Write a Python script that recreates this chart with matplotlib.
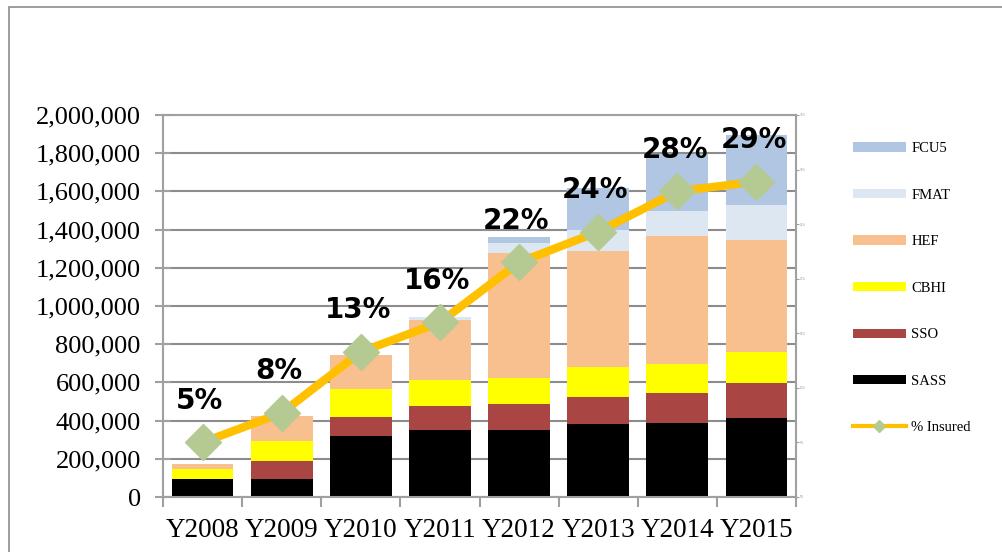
import matplotlib.pyplot as plt
import numpy as np
from matplotlib.ticker import FuncFormatter, MultipleLocator
from matplotlib.lines import Line2D
from matplotlib.patches import Patch, Rectangle

years = ['Y2008', 'Y2009', 'Y2010', 'Y2011', 'Y2012', 'Y2013', 'Y2014', 'Y2015']

# stacked values, bottom to top
sass = [93000, 93000, 317000, 353000, 352000, 380000, 387000, 411000]
sso = [0, 94000, 104000, 121000, 135000, 141000, 157000, 186000]
cbhi = [54000, 107000, 144000, 140000, 134000, 161000, 150000, 163000]
hef = [26000, 131000, 177000, 315000, 655000, 606000, 672000, 585000]
fmat = [0, 0, 0, 16000, 52000, 110000, 134000, 182000]
fcu5 = [0, 0, 0, 0, 33000, 219000, 295000, 368000]

insured = [5.0, 7.7, 13.3, 16.0, 21.5, 24.3, 28.0, 28.9]
insured_labels = ['5%', '8%', '13%', '16%', '22%', '24%', '28%', '29%']

series = [('SASS', sass, '#000000'),
          ('SSO', sso, '#A94644'),
          ('CBHI', cbhi, '#FFFF00'),
          ('HEF', hef, '#F9C08F'),
          ('FMAT', fmat, '#DDE7F2'),
          ('FCU5', fcu5, '#B0C6E2')]

fig = plt.figure(figsize=(10.02, 5.52), dpi=100)
fig.patches.append(Rectangle((9 / 1002, -0.1), 1.2, 1.1 - 7 / 552, transform=fig.transFigure,
                             fill=False, edgecolor='#8C8C8C', linewidth=1.2))

ax = fig.add_axes([163 / 1002, 1 - 497 / 552, (796 - 163) / 1002, (497 - 115) / 552])
x = np.arange(len(years))
bottom = np.zeros(len(years))
for name, vals, col in series:
    ax.bar(x, vals, 0.78, bottom=bottom, color=col, label=name, zorder=2)
    bottom += np.array(vals)

ax.set_xlim(-0.5, len(years) - 0.5)
ax.set_ylim(0, 2000000)
ax.yaxis.set_major_locator(MultipleLocator(200000))
ax.yaxis.set_major_formatter(FuncFormatter(lambda v, p: f'{int(v):,}'))
ax.grid(axis='y', color='#8C8C8C', linewidth=1.5, zorder=0)
ax.set_axisbelow(True)
for s in ax.spines.values():
    s.set_color('#A0A0A0')
    s.set_linewidth(1.5)
ax.set_xticks(x)
ax.set_xticklabels(years, fontfamily='Liberation Serif', fontsize=19.5)
ax.set_xticks(np.arange(-0.5, len(years)), minor=True)
ax.tick_params(axis='x', which='major', length=0, pad=15)
ax.tick_params(axis='x', which='minor', length=7, direction='out', color='#A0A0A0', width=1.5)
ax.tick_params(axis='y', direction='inout', length=12, color='#A0A0A0', width=1.5, pad=10)
for t in ax.get_yticklabels():
    t.set_fontfamily('Liberation Serif')
    t.set_fontsize(19)

ax2 = ax.twinx()
ax2.set_ylim(0, 35)
ax2.yaxis.set_major_locator(MultipleLocator(5))
ax2.yaxis.set_major_formatter(FuncFormatter(lambda v, p: f'{int(v)}%'))
ax2.tick_params(axis='y', length=2, color='#A0A0A0', labelsize=2, labelcolor='#999999', pad=1)
for s in ax2.spines.values():
    s.set_visible(False)
ax2.plot(x, insured, color='#FFC000', linewidth=6, marker='D', markersize=18,
         markerfacecolor='#B5C993', markeredgecolor='#B5C993', zorder=5)
for xi, yi, lab in zip(x, insured, insured_labels):
    ax2.annotate(lab, (xi, yi), xytext=(-2, 30), textcoords='offset points',
                 ha='center', va='center', fontsize=20, fontweight='bold',
                 fontfamily='DejaVu Sans')

handles = [Patch(facecolor=c, label=n) for n, v, c in reversed(series)]
handles.append(Line2D([], [], color='#FFC000', linewidth=3, marker='D', markersize=6,
                      markerfacecolor='#B5C993', markeredgecolor='#B5C993', label='% Insured'))
leg = fig.legend(handles=handles, loc='upper left', bbox_to_anchor=(840 / 1002, 1 - 129 / 552),
                 frameon=False, prop={'family': 'Liberation Serif', 'size': 10.5},
                 handlelength=3.6, handleheight=0.6, labelspacing=2.3, handletextpad=0.4)

fig.savefig('out.png', dpi=100)
